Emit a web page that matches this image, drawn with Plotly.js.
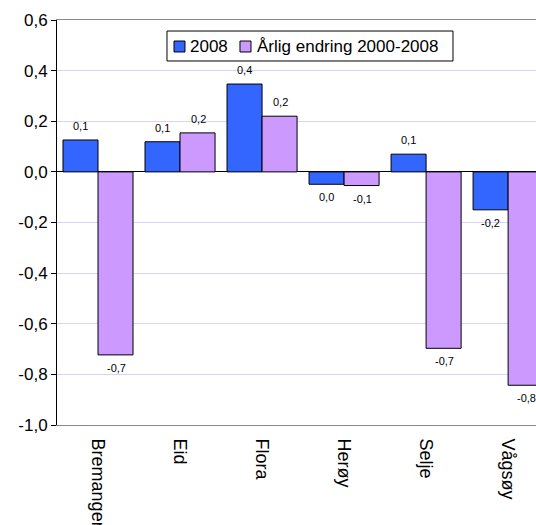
<!DOCTYPE html>
<html><head><meta charset="utf-8">
<script src="https://cdn.plot.ly/plotly-3.0.1.min.js"></script>
<style>html,body{margin:0;padding:0;background:#fff;}#chart{width:536px;height:525px;}</style>
</head><body><div id="chart"></div>
<script>
const categories = ["Bremanger", "Eid", "Flora", "Herøy", "Selje", "Vågsøy"];
const series2008 = [0.126, 0.119, 0.347, -0.049, 0.070, -0.150];
const seriesChange = [-0.723, 0.154, 0.220, -0.054, -0.697, -0.843];
const labels2008 = ["0,1", "0,1", "0,4", "0,0", "0,1", "-0,2"];
const labelsChange = ["-0,7", "0,2", "0,2", "-0,1", "-0,7", "-0,8"];
const yTickVals = [-1.0, -0.8, -0.6, -0.4, -0.2, 0.0, 0.2, 0.4, 0.6];
const yTickText = ["-1,0", "-0,8", "-0,6", "-0,4", "-0,2", "0,0", "0,2", "0,4", "0,6"];
const seriesNames = ["2008", "Årlig endring 2000-2008"];
const seriesColors = ["#3366FF", "#CC99FF"];

const FONT = "Arial, 'Liberation Sans', sans-serif";
const traces = [
  {type: "bar", name: seriesNames[0], x: categories, y: series2008,
   marker: {color: seriesColors[0], line: {color: "#000", width: 1}}, hoverinfo: "skip"},
  {type: "bar", name: seriesNames[1], x: categories, y: seriesChange,
   marker: {color: seriesColors[1], line: {color: "#000", width: 1}}, hoverinfo: "skip"}
];

const annotations = [];
function addLabels(vals, labs, shift) {
  vals.forEach((v, i) => {
    annotations.push({x: i, y: v, xref: "x", yref: "y", text: labs[i], showarrow: false,
      xshift: shift, yshift: v >= 0 ? 14 : -13, yanchor: "middle", xanchor: "center",
      font: {family: FONT, size: 11, color: "#000"}});
  });
}
addLabels(series2008, labels2008, -18);
addLabels(seriesChange, labelsChange, 18);

// hand-drawn legend box (layout styling, paper coordinates)
const legendBox = {x0: 0.2296, x1: 0.8267, y0: 0.8988, y1: 0.9728};
const legendSquares = [{x0: 0.2443, x1: 0.2672}, {x0: 0.3820, x1: 0.4050}];
const legendTextX = [0.2756, 0.4154];
const shapes = [{type: "rect", xref: "paper", yref: "paper", x0: legendBox.x0, x1: legendBox.x1,
  y0: legendBox.y0, y1: legendBox.y1, fillcolor: "#fff", line: {color: "#000", width: 1}}];
seriesNames.forEach((n, k) => {
  shapes.push({type: "rect", xref: "paper", yref: "paper", x0: legendSquares[k].x0, x1: legendSquares[k].x1,
    y0: 0.9210, y1: 0.9481, fillcolor: seriesColors[k], line: {color: "#000", width: 1}});
  annotations.push({xref: "paper", yref: "paper", x: legendTextX[k], y: 0.9358, text: n,
    showarrow: false, xanchor: "left", yanchor: "middle", borderpad: 0,
    font: {family: FONT, size: 17, color: "#000"}});
});

const layout = {
  width: 536, height: 525,
  margin: {l: 57, r: 0, t: 20, b: 100},
  paper_bgcolor: "#fff", plot_bgcolor: "#fff",
  font: {family: FONT, size: 17, color: "#000"},
  barmode: "group", bargap: 0.146, bargroupgap: 0,
  showlegend: false,
  xaxis: {type: "category", range: [-0.5, 5.34], tickangle: 90, ticks: "",
    ticklabelstandoff: 9,
    showline: true, linecolor: "#888", linewidth: 1, mirror: true, showgrid: false,
    tickfont: {family: FONT, size: 18, color: "#000"}, fixedrange: true},
  xaxis2: {overlaying: "x", anchor: "free", position: 0.625, range: [-0.5, 5.34],
    tickmode: "array", tickvals: [0.5, 1.5, 2.5, 3.5, 4.5], ticks: "outside", ticklen: 4,
    tickcolor: "#000", tickwidth: 1, showticklabels: false, showgrid: false,
    zeroline: false, showline: false},
  yaxis: {range: [-1.0, 0.6], tickmode: "array", tickvals: yTickVals, ticktext: yTickText,
    ticks: "outside", ticklen: 5, tickcolor: "#000", showline: true, linecolor: "#000",
    linewidth: 1, gridcolor: "#D4D4FF", gridwidth: 1, zeroline: true, zerolinecolor: "#000",
    zerolinewidth: 1, tickfont: {family: FONT, size: 17, color: "#000"}, fixedrange: true},
  shapes: shapes,
  annotations: annotations
};
Plotly.newPlot("chart", traces, layout, {displayModeBar: false, staticPlot: true});
</script></body></html>
